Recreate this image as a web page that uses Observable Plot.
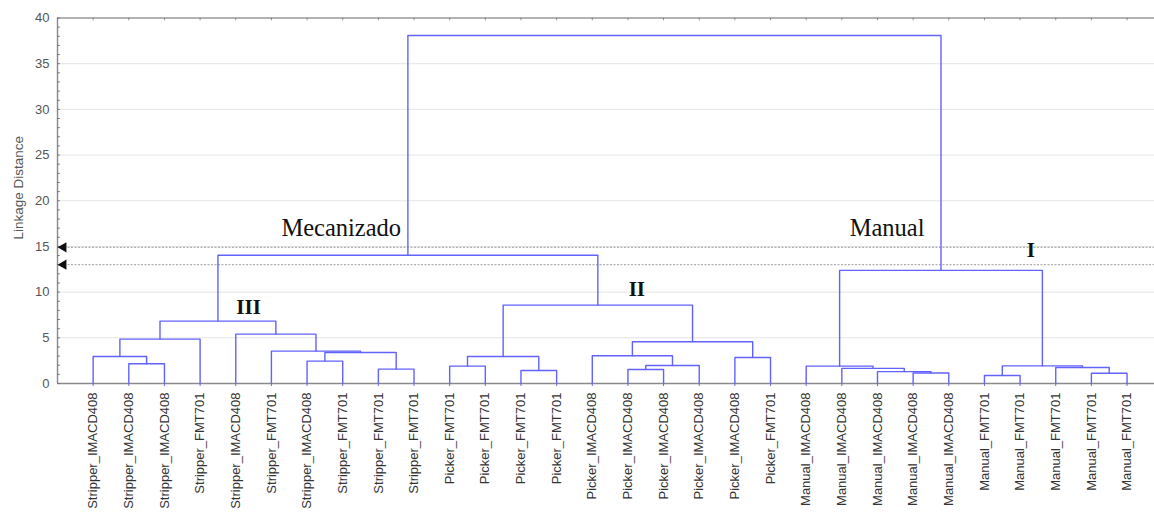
<!DOCTYPE html>
<html>
<head>
<meta charset="utf-8">
<script src="https://cdn.jsdelivr.net/npm/d3@7"></script>
<script src="https://cdn.jsdelivr.net/npm/@observablehq/plot@0.6"></script>
<style>
  html, body { margin: 0; padding: 0; background: #fff; }
  #chart svg { display: block; }
</style>
</head>
<body>
<div id="chart"></div>
<script>
// Leaf labels (left to right)
const leaves = [
  "Stripper_IMACD408","Stripper_IMACD408","Stripper_IMACD408","Stripper_FMT701",
  "Stripper_IMACD408","Stripper_FMT701","Stripper_IMACD408","Stripper_FMT701",
  "Stripper_FMT701","Stripper_FMT701",
  "Picker_FMT701","Picker_FMT701","Picker_FMT701","Picker_FMT701",
  "Picker_IMACD408","Picker_IMACD408","Picker_IMACD408","Picker_IMACD408",
  "Picker_IMACD408","Picker_FMT701",
  "Manual_IMACD408","Manual_IMACD408","Manual_IMACD408","Manual_IMACD408","Manual_IMACD408",
  "Manual_FMT701","Manual_FMT701","Manual_FMT701","Manual_FMT701","Manual_FMT701"
];

// Linkage: [left child, right child] (ids >= 30 refer to earlier merges) and linkage distance
const mergeLeft  = [1, 0, 31, 6, 8, 33, 5, 4, 32,  10, 12, 39, 15, 42, 14, 18, 44, 41,  23, 22, 21, 20, 25, 28, 27, 52, 51,  38, 57];
const mergeRight = [2, 30, 3, 7, 9, 34, 35, 36, 37, 11, 13, 40, 16, 17, 43, 19, 45, 46,  24, 48, 49, 50, 26, 29, 53, 54, 55,  47, 56];
const mergeHeight = [2.16, 2.96, 4.86, 2.45, 1.57, 3.40, 3.54, 5.40, 6.83,
                     1.90, 1.42, 2.96, 1.53, 1.97, 3.03, 2.85, 4.57, 8.58,
                     1.15, 1.30, 1.65, 1.90, 0.88, 1.13, 1.75, 1.93, 12.38,
                     14.03, 38.08];

// Cut-off lines and annotations
const cutLevels = [14.9, 13.0];
const yTicks = [0, 5, 10, 15, 20, 25, 30, 35, 40];
const gridLevels = [5, 10, 15, 20, 25, 30, 35];
const groupLabels = [
  {text: "Mecanizado", x: 5.28, y: 16.1, bold: false},
  {text: "Manual", x: 21.22, y: 16.1, bold: false},
  {text: "III", x: 4.36, y: 7.6, bold: true},
  {text: "II", x: 15.25, y: 9.6, bold: true},
  {text: "I", x: 26.3, y: 13.8, bold: true}
];

// Build node positions and dendrogram links
const N = leaves.length;
const nodeX = d3.range(N).map(i => i);
const nodeH = d3.range(N).map(() => 0);
const links = [];
mergeLeft.forEach((l, k) => {
  const r = mergeRight[k], h = mergeHeight[k];
  const x = (nodeX[l] + nodeX[r]) / 2;
  links.push({id: k, x: nodeX[l], y: nodeH[l]});
  links.push({id: k, x: nodeX[l], y: h});
  links.push({id: k, x: nodeX[r], y: h});
  links.push({id: k, x: nodeX[r], y: nodeH[r]});
  nodeX.push(x); nodeH.push(h);
});

const blue = "#6262ff";
const leafIdx = d3.range(N);

const chart = Plot.plot({
  width: 1154,
  height: 516,
  marginLeft: 57,
  marginRight: 0,
  marginTop: 17.5,
  marginBottom: 133,
  style: {fontFamily: "'Liberation Sans', Arial, sans-serif", background: "#fff"},
  x: {domain: [-1, 29.77], axis: null},
  y: {domain: [0, 40], axis: null},
  marks: [
    Plot.ruleY(gridLevels, {stroke: "#e4e4e4", strokeWidth: 1}),
    Plot.ruleY(cutLevels, {stroke: "#b0b0b0", strokeWidth: 1.2, strokeDasharray: "2,1.5"}),
    // frame: left, top, bottom
    Plot.ruleY([40], {stroke: "#9a9a9a", strokeWidth: 1.6}),
    Plot.ruleY([0], {stroke: "#8a8a8a", strokeWidth: 1.6}),
    Plot.ruleX([-1], {stroke: "#8a8a8a", strokeWidth: 1.4}),
    // minor ticks on y axis
    Plot.ruleY(d3.range(0, 41), {x1: -1, x2: -0.92, stroke: "#777", strokeWidth: 1}),
    // top ticks at leaves
    Plot.ruleX(leafIdx, {y1: 40, y2: 39.7, stroke: "#888", strokeWidth: 1}),
    // dendrogram
    Plot.line(links, {x: "x", y: "y", z: "id", stroke: blue, strokeWidth: 1.4, curve: "linear"}),
    // cut arrows
    Plot.dot(cutLevels, {y: d => d, frameAnchor: "left", dx: 6, symbol: "triangle", r: 3.8, fill: "#111", stroke: "none", rotate: -90}),
    // y axis labels
    Plot.axisY({ticks: yTicks, tickSize: 0, tickPadding: 8, fontSize: 13, color: "#555", label: null}),
    Plot.text(["Linkage Distance"], {frameAnchor: "left", textAnchor: "middle", dx: -39, dy: -13, rotate: -90, fontSize: 13.5, fill: "#555"}),
    // leaf axis
    Plot.axisX({ticks: leafIdx, tickFormat: i => leaves[i], tickRotate: -90, tickSize: 3, tickPadding: 6,
                fontSize: 13, color: "#333", stroke: "#7070d0", label: null}),
    // group annotations
    Plot.text(groupLabels.filter(d => !d.bold), {x: "x", y: "y", text: "text", textAnchor: "start", lineAnchor: "bottom",
      fontFamily: "'Liberation Serif', 'Times New Roman', serif", fontSize: 24.5, fill: "#111"}),
    Plot.text(groupLabels.filter(d => d.bold), {x: "x", y: "y", text: "text", textAnchor: "middle", lineAnchor: "bottom",
      fontFamily: "'Liberation Serif', 'Times New Roman', serif", fontWeight: "bold", fontSize: 21, fill: "#111"})
  ]
});

document.getElementById("chart").appendChild(chart);
</script>
</body>
</html>
